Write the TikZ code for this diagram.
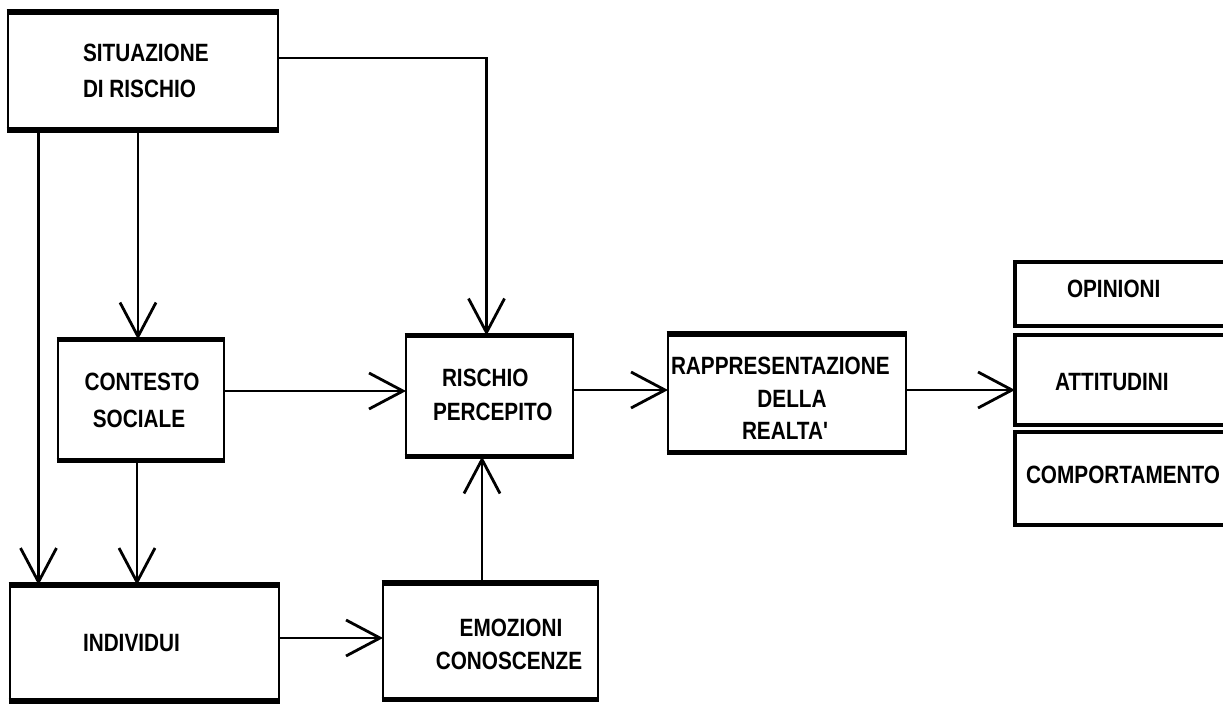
\documentclass[tikz,border=0pt]{standalone}
\usepackage{fontspec}
\newfontfamily\df{Liberation Sans}[FakeStretch=0.83]
\usetikzlibrary{arrows.meta}
\begin{document}
\begin{tikzpicture}[x=1pt,y=-1pt,
  box/.style={draw=none, inner sep=0, outer sep=0},
  side/.style={line width=2.8pt},
  edge/.style={line width=5.5pt},
  rside/.style={line width=4.5pt},
  redge/.style={line width=3.5pt},
  arr/.style={line width=2.8pt, -{Straight Barb[length=34pt,width=36pt]}},
  lbl/.style={font=\df\bfseries\fontsize{25}{29}\selectfont, inner sep=0, outer sep=0}]
\useasboundingbox (0,0) rectangle (1223,704);
\clip (0,0) rectangle (1223,704);
\fill[white] (0,0) rectangle (1223,704);

% boxes
\node[box, minimum width=270pt, minimum height=118pt] (sit) at (143,71) {};
\node[box, minimum width=166pt, minimum height=121pt] (con) at (141,400) {};
\node[box, minimum width=167pt, minimum height=121pt] (ris) at (489.5,396) {};
\node[box, minimum width=238pt, minimum height=118.5pt] (rap) at (787,393) {};
\node[box, minimum width=269pt, minimum height=116pt] (ind) at (144.5,643) {};
\node[box, minimum width=215pt, minimum height=116.5pt] (emo) at (490.5,641) {};
\node[box, minimum width=225pt, minimum height=64pt] (opi) at (1127.5,294) {};
\node[box, minimum width=225pt, minimum height=90pt] (att) at (1127.5,380) {};
\node[box, minimum width=225pt, minimum height=93pt] (com) at (1127.5,478.5) {};

\foreach \n in {sit,con,ris,rap,ind,emo} {
  \draw[side] (\n.north west) -- (\n.south west) (\n.north east) -- (\n.south east);
  \draw[edge] ([xshift=-1.4pt]\n.north west) -- ([xshift=1.4pt]\n.north east)
              ([xshift=-1.4pt]\n.south west) -- ([xshift=1.4pt]\n.south east);
}
\foreach \n in {opi,att,com} {
  \draw[redge] (\n.north west) -- (\n.north east) (\n.south west) -- (\n.south east);
  \draw[rside] ([yshift=1.7pt]\n.north west) -- ([yshift=-1.7pt]\n.south west);
}

% texts
\node[lbl, anchor=base west] (sit1) at (83,61) {SITUAZIONE};
\node[lbl, anchor=base west] (sit2) at (83,97) {DI RISCHIO};
\node[lbl, anchor=base] (con1) at (142,390) {CONTESTO};
\node[lbl, anchor=base] (con2) at (139,427) {SOCIALE};
\node[lbl, anchor=base west] (ris1) at (442,386) {RISCHIO};
\node[lbl, anchor=base west] (ris2) at (433,420) {PERCEPITO};
\node[lbl, anchor=base west] (rap1) at (671,374) {RAPPRESENTAZIONE};
\node[lbl, anchor=base] (rap2) at (792,407) {DELLA};
\node[lbl, anchor=base] (rap3) at (785,439) {REALTA'};
\node[lbl, anchor=base west] (opit) at (1067,297) {OPINIONI};
\node[lbl, anchor=base west] (attt) at (1055,390) {ATTITUDINI};
\node[lbl, anchor=base west] (comt) at (1026,483) {COMPORTAMENTO};
\node[lbl, anchor=base west] (indt) at (83,651) {INDIVIDUI};
\node[lbl, anchor=base] (emo1) at (511,636) {EMOZIONI};
\node[lbl, anchor=base] (emo2) at (509,669) {CONOSCENZE};

% connectors
\draw[arr] ([yshift=13pt]sit.east) -| ([xshift=-3pt]ris.north);
\draw[arr] ([xshift=30.5pt]sit.south west) -- ([xshift=30.5pt]sit.south west |- ind.north);
\draw[arr] ([xshift=-3pt]con.north |- sit.south) -- ([xshift=-3pt]con.north);
\draw[arr] ([xshift=-4pt]con.south) -- ([xshift=-4pt]con.south |- ind.north);
\draw[arr] ([yshift=9pt]con.east) -- ([yshift=9pt]con.east -| ris.west);
\draw[arr] ([yshift=6pt]ris.east) -- ([yshift=6pt]ris.east -| rap.west);
\draw[arr] ([yshift=3pt]rap.east) -- ([yshift=3pt]rap.east -| att.west);
\draw[arr] ([yshift=5pt]ind.east) -- ([yshift=5pt]ind.east -| emo.west);
\draw[arr] ([xshift=-8.5pt]emo.north) -- ([xshift=-8.5pt]emo.north |- ris.south);
\end{tikzpicture}
\end{document}
